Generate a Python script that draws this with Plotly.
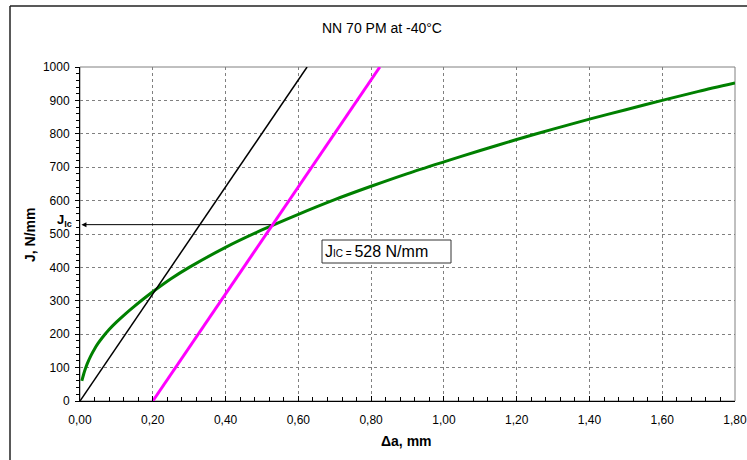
import plotly.graph_objects as go

# Data
crack_ext = [0.005, 0.01, 0.015, 0.02, 0.03, 0.04, 0.05, 0.06, 0.08, 0.10, 0.125, 0.15, 0.175, 0.20,
             0.25, 0.30, 0.40, 0.50, 0.60, 0.70, 0.80, 0.90, 1.00, 1.10, 1.20, 1.30, 1.40, 1.50,
             1.60, 1.70, 1.80]
j_resist = [60, 80, 97, 112, 136, 156, 173, 188, 214, 236, 261, 284, 306, 327,
            366, 400, 460, 512, 559, 603, 643, 681, 716, 750, 783, 814, 844, 872,
            900, 927, 952]
blunt_x = [0.0, 0.624]
blunt_y = [0, 1000]
offset_x = [0.2, 0.824]
offset_y = [0, 1000]
jic_value = 528
jic_da = 0.529

FONT = "Liberation Sans, Arial, sans-serif"

fig = go.Figure()
fig.add_trace(go.Scatter(x=crack_ext, y=j_resist, mode="lines",
                         line=dict(color="#008000", width=3, shape="spline", smoothing=0.8),
                         showlegend=False, hoverinfo="skip"))
fig.add_trace(go.Scatter(x=blunt_x, y=blunt_y, mode="lines", line=dict(color="black", width=1.5),
                         showlegend=False, hoverinfo="skip"))
fig.add_trace(go.Scatter(x=offset_x, y=offset_y, mode="lines", line=dict(color="#ff00ff", width=3),
                         showlegend=False, hoverinfo="skip"))

W, H = 747, 460
L, R, T, B = 80, 12, 67, 59
pw, ph = W - L - R, H - T - B

def px(x):
    return (x - L) / pw

def py(y):
    return (H - B - y) / ph

shapes = [
    dict(type="rect", xref="paper", yref="paper", x0=0, x1=1, y0=0, y1=1,
         line=dict(color="#808080", width=1), layer="below"),
    dict(type="line", xref="paper", yref="paper", x0=px(10), x1=px(10), y0=py(6), y1=py(480),
         line=dict(color="#222222", width=1.5)),
    dict(type="line", xref="paper", yref="paper", x0=px(10), x1=px(770), y0=py(6), y1=py(6),
         line=dict(color="#222222", width=1.5)),
    dict(type="rect", xref="paper", yref="paper", x0=px(322), x1=px(451), y0=py(263), y1=py(240),
         line=dict(color="#333333", width=1), fillcolor="white"),
]

annotations = [
    dict(x=0.004, y=jic_value, ax=jic_da, ay=jic_value, xref="x", yref="y", axref="x", ayref="y",
         showarrow=True, arrowhead=2, arrowsize=1, arrowwidth=1, arrowcolor="black", text=""),
    dict(x=px(74), y=jic_value, xref="paper", yref="y", xanchor="right", yanchor="middle", yshift=4,
         text="<b>J<sub>Ic</sub></b>", showarrow=False, font=dict(family=FONT, size=13, color="black")),
    dict(x=px(323), y=py(251.5), xref="paper", yref="paper", xanchor="left", yanchor="middle",
         text="J<span style='font-size:10px'>IC = </span>528 N/mm", showarrow=False,
         font=dict(family=FONT, size=16, color="black")),
    dict(x=px(30), y=py(235), xref="paper", yref="paper", xanchor="center", yanchor="middle",
         text="<b>J, N/mm</b>", textangle=-90, showarrow=False, font=dict(family=FONT, size=14, color="black")),
    dict(x=px(406), y=py(441), xref="paper", yref="paper", xanchor="center", yanchor="middle",
         text="<b>\u0394a, mm</b>", showarrow=False, font=dict(family=FONT, size=14, color="black")),
]

fig.update_layout(
    width=W, height=H,
    margin=dict(l=L, r=R, t=T, b=B, autoexpand=False),
    paper_bgcolor="white", plot_bgcolor="white",
    separators=", ",
    font=dict(family=FONT, size=12, color="black"),
    title=dict(text="NN 70 PM at -40°C", x=382 / W, xanchor="center", y=1 - 28 / H, yanchor="middle",
               font=dict(family=FONT, size=14, color="black")),
    shapes=shapes,
    annotations=annotations,
    xaxis=dict(range=[0, 1.8], dtick=0.2, tick0=0, tickformat=".2f", showgrid=True, gridcolor="#808080",
               griddash="dot", gridwidth=1, showline=True, linecolor="black", linewidth=1,
               ticks="inside", ticklen=5, tickcolor="black", zeroline=False, ticklabelstandoff=8,
               ticklabeloverflow="allow", automargin=False,
               minor=dict(dtick=0.04, tick0=0, ticks="inside", ticklen=4, tickcolor="black", showgrid=False),
               fixedrange=True),
    yaxis=dict(range=[0, 1000], dtick=100, tick0=0, tickformat="d", showgrid=True, gridcolor="#808080",
               griddash="dot", gridwidth=1, showline=True, linecolor="black", linewidth=1,
               ticks="outside", ticklen=4, tickcolor="black", zeroline=False, ticklabelstandoff=3,
               automargin=False,
               minor=dict(dtick=20, tick0=0, ticks="outside", ticklen=3, tickcolor="black", showgrid=False),
               fixedrange=True),
)

fig.write_html("out.html", config={"displayModeBar": False},
               post_script="document.body.style.margin='0';document.body.style.overflow='hidden';")
